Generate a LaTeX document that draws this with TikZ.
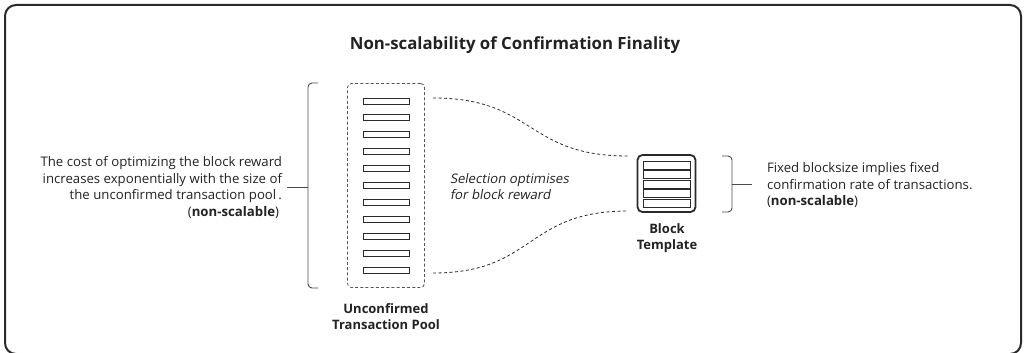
\documentclass[tikz,border=0pt]{standalone}
\usepackage{fontspec}
\setmainfont{Open Sans}
\newfontfamily\slantfont[FakeSlant=0.18]{Open Sans}
\definecolor{ink}{HTML}{2A2A2A}
\definecolor{txt}{HTML}{222222}
\begin{document}
\begin{tikzpicture}[x=1pt,y=-1pt,
  every node/.style={inner sep=0pt,outer sep=0pt,text=txt},
  frame/.style={draw=ink,line width=2pt,rounded corners=11pt},
  poolbox/.style={draw=ink!80,line width=0.8pt,dash pattern=on 3pt off 2.2pt,rounded corners=4pt,minimum width=77pt,minimum height=204pt},
  txbar/.style={draw=ink,line width=0.9pt,fill=white},
  tmplbox/.style={draw=ink,line width=1.8pt,rounded corners=5pt,minimum width=58pt,minimum height=57pt},
  brace/.style={draw=ink!85,line width=0.9pt,rounded corners=4pt},
  flow/.style={draw=ink,line width=0.8pt,dash pattern=on 3pt off 2.5pt},
  body/.style={font=\fontsize{13.2}{16.5}\selectfont},
  lbl/.style={font=\fontsize{13}{16}\selectfont\bfseries,align=center},
  title/.style={font=\fontsize{16.8}{20}\selectfont\bfseries}]
\useasboundingbox (0,0) rectangle (1026,353);
\begin{scope}
\clip (0,0) rectangle (1026,353);
\draw[frame] (5,5) rectangle (1021,354);
\end{scope}

\node[title] (title) at (515,45) {Non-scalability of Confirmation Finality};

% pool
\node[poolbox] (pool) at (386,185.5) {};
\foreach \i in {0,...,10} {
  \draw[txbar] (363,{98+16.9*\i}) rectangle (409,{104+16.9*\i});
}
\node[lbl] (poollbl) at (386,317) {Unconfirmed\\Transaction Pool};

% block template
\node[tmplbox] (tmpl) at (666.5,183.5) {};
\foreach \i in {0,...,4} {
  \draw[txbar,line width=0.8pt] (643,{161+9.5*\i}) rectangle (690,{169+9.5*\i});
}
\node[lbl] (tmpllbl) at (667,238.5) {Block\\Template};

% flow curves
\coordinate (c1) at (433,98);
\coordinate (c2) at (628,156);
\coordinate (c3) at (433,273);
\coordinate (c4) at (628,211);
\draw[flow] (c1) .. controls (535,98) and (525,156) .. (c2);
\draw[flow] (c3) .. controls (535,273) and (525,211) .. (c4);

\node[font=\fontsize{13.2}{16.5}\slantfont,align=left,anchor=west] (sel) at (450,186.5) {Selection optimises\\for block reward};

% left brace
\draw[brace] (318,83) -- (308,83) -- (308,288) -- (318,288);
\coordinate (lb) at (308,187);
\coordinate (lt) at (287,187);
\draw[brace] (lb) -- (lt);
\node[body,align=right,anchor=east] (ltext) at (282,187.5) {The cost of optimizing the block reward\\increases exponentially with the size of\\the unconfirmed transaction pool\thinspace.\\(\textbf{non-scalable})\hspace*{3pt}};

% right brace
\draw[brace] (722,156) -- (732,156) -- (732,212) -- (722,212);
\coordinate (rb) at (732,184);
\coordinate (rt) at (752,184);
\draw[brace] (rb) -- (rt);
\node[body,align=left,anchor=west] (rtext) at (767,185) {Fixed blocksize implies fixed\\confirmation rate of transactions.\\(\textbf{non-scalable})};
\end{tikzpicture}
\end{document}
